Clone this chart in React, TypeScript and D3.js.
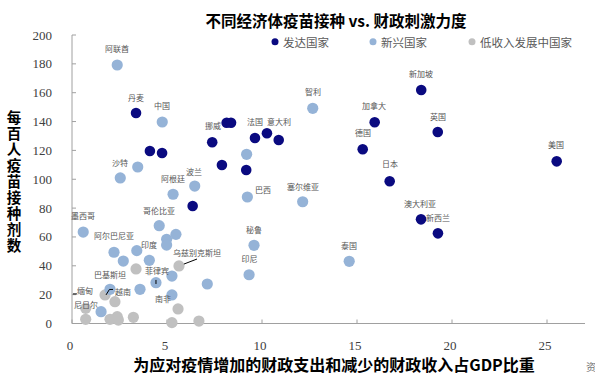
import React from "react";
import * as d3 from "d3";

// ---- data ----
const devX = [3.37, 4.1, 4.74, 8.14, 8.37, 7.38, 9.63, 10.26, 10.88, 7.89, 9.17, 6.35, 15.3, 15.93, 18.38, 19.25, 25.51, 16.72, 18.37, 19.26];
const devY = [145.9, 119.6, 118.2, 139.2, 139.2, 125.6, 128.6, 131.9, 127.2, 109.9, 106.4, 81.5, 120.8, 139.5, 161.9, 132.8, 112.4, 98.6, 72.2, 62.5];

const emgX = [2.38, 4.75, 12.67, 3.46, 2.54, 6.46, 5.32, 9.19, 9.23, 12.14, 9.58, 9.32, 14.59, 7.12, 0.59, 4.59, 5.47, 4.98, 4.98, 2.21, 3.41, 2.7, 4.07, 4.42, 3.58, 2.0, 5.26, 5.26, 1.53];
const emgY = [179.2, 139.7, 149.2, 108.5, 100.9, 95.3, 89.6, 117.3, 87.7, 84.4, 54.2, 33.8, 43.1, 27.4, 63.4, 67.8, 61.8, 58.4, 54.4, 49.4, 50.5, 43.3, 43.8, 28.3, 23.7, 23.7, 32.9, 19.8, 8.2];

const lowX = [3.37, 5.63, 1.74, 2.26, 0.72, 5.58, 0.72, 2.0, 2.38, 2.44, 3.23, 5.26, 6.68];
const lowY = [37.8, 39.9, 19.8, 15.1, 10.5, 10.1, 2.9, 2.9, 4.7, 2.4, 4.3, 0.6, 1.7];

const labelText = ["阿联酋", "丹麦", "中国", "挪威", "法国", "意大利", "智利", "新加坡", "加拿大", "英国", "德国", "美国", "日本", "澳大利亚", "新西兰", "沙特", "波兰", "阿根廷", "巴西", "塞尔维亚", "秘鲁", "泰国", "印尼", "乌兹别克斯坦", "墨西哥", "哥伦比亚", "阿尔巴尼亚", "印度", "菲律宾", "巴基斯坦", "缅甸", "越南", "尼日尔", "南非"];
const labelX = [2.37, 3.37, 4.74, 7.42, 9.63, 10.89, 12.68, 18.37, 15.89, 19.26, 15.32, 25.47, 16.74, 18.32, 19.26, 2.53, 6.42, 5.32, 10.05, 12.16, 9.58, 14.58, 9.34, 6.58, 0.58, 4.58, 2.21, 4.05, 4.47, 2.0, 0.68, 2.68, 0.74, 4.79];
const labelY = [190.3, 157.0, 150.8, 137.3, 139.7, 139.7, 160.5, 173.0, 150.8, 143.8, 132.1, 124.4, 110.6, 83.5, 73.8, 111.3, 105.7, 100.2, 93.2, 95.3, 65.5, 54.4, 45.4, 48.9, 75.2, 78.0, 60.7, 55.1, 36.4, 34.3, 23.2, 22.5, 13.5, 17.0];

const leaderLines: [number, number][][] = [
  [[5.89, 41.2], [6.58, 44.7]],
  [[4.42, 30.2], [4.42, 27.4]],
  [[1.79, 19.8], [1.97, 23.6], [2.16, 23.6]],
  [[0.05, 20.5], [0.26, 20.5]],
];

const xTicks = [0, 5, 10, 15, 20, 25];
const yTicks = [0, 20, 40, 60, 80, 100, 120, 140, 160, 180, 200];

const seriesNames = ["发达国家", "新兴国家", "低收入发展中国家"];
const seriesColors = ["#0a0a80", "#95b3d7", "#c0c0c0"];

const title = "不同经济体疫苗接种 vs. 财政刺激力度";
const xTitle = "为应对疫情增加的财政支出和减少的财政收入占GDP比重";
const yTitle = "每百人疫苗接种剂数";

export default function App() {
  const x = d3.scaleLinear().domain([0, 27]).range([72, 585]);
  const y = d3.scaleLinear().domain([0, 200]).range([323.5, 35]);
  const series = [
    { xs: devX, ys: devY },
    { xs: emgX, ys: emgY },
    { xs: lowX, ys: lowY },
  ];
  const line = d3.line<[number, number]>().x((d) => x(d[0])).y((d) => y(d[1]));
  const cjk = "'Noto Sans CJK SC', 'Noto Sans', sans-serif";
  const serif = "'Liberation Serif', 'DejaVu Serif', serif";
  const legendX = [275, 373, 472];

  return (
    <svg width={595} height={378} style={{ position: "absolute", left: 0, top: 0, background: "#fff" }}>
      <rect width={595} height={378} fill="#fff" />
      <text x={336} y={20} textAnchor="middle" dominantBaseline="central" fontFamily={cjk} fontWeight={700} fontSize={15.5} fill="#000">
        {title}
      </text>
      {seriesNames.map((n, i) => (
        <g key={n}>
          <circle cx={legendX[i]} cy={41.7} r={3.5} fill={seriesColors[i]} />
          <text x={legendX[i] + 8} y={41.7} dominantBaseline="central" fontFamily={cjk} fontSize={11.5} fill="#595959">
            {n}
          </text>
        </g>
      ))}
      {/* axes */}
      <line x1={x(0)} x2={x(0)} y1={y(200)} y2={y(0)} stroke="#a0a0a0" strokeWidth={1} />
      <line x1={x(0)} x2={x(27)} y1={y(0)} y2={y(0)} stroke="#a0a0a0" strokeWidth={1} />
      {yTicks.map((t) => (
        <g key={"y" + t}>
          <line x1={x(0)} x2={x(0) + 4} y1={y(t)} y2={y(t)} stroke="#a0a0a0" />
          <text x={52} y={y(t)} textAnchor="end" dominantBaseline="central" fontFamily={serif} fontSize={13} fill="#404040">
            {t}
          </text>
        </g>
      ))}
      {xTicks.map((t) => (
        <g key={"x" + t}>
          <line x1={x(t)} x2={x(t)} y1={y(0)} y2={y(0) - 4} stroke="#a0a0a0" />
          <text x={x(t) - 2} y={345} textAnchor="middle" dominantBaseline="central" fontFamily={serif} fontSize={13} fill="#404040">
            {t}
          </text>
        </g>
      ))}
      {/* points */}
      {series
        .map((s, si) =>
          s.xs.map((vx, i) => (
            <circle key={si + "-" + i} cx={x(vx)} cy={y(s.ys[i])} r={si === 0 ? 5.3 : 5.6} fill={seriesColors[si]} />
          ))
        )
        .reverse()}
      {leaderLines.map((l, i) => (
        <path key={"l" + i} d={line(l) || ""} stroke="#000" strokeWidth={1} fill="none" />
      ))}
      {labelText.map((t, i) => (
        <text key={"t" + i} x={x(labelX[i])} y={y(labelY[i])} textAnchor="middle" dominantBaseline="central" fontFamily={cjk} fontSize={8} fill="#555">
          {t}
        </text>
      ))}
      {/* axis titles */}
      <text x={334} y={364} textAnchor="middle" dominantBaseline="central" fontFamily={cjk} fontWeight={700} fontSize={16} fill="#000">
        {xTitle}
      </text>
      <text
        x={14}
        y={110}
        style={{ writingMode: "vertical-rl", letterSpacing: "1.5px" }}
        fontFamily={cjk}
        fontWeight={700}
        fontSize={14.5}
        fill="#000"
      >
        {yTitle}
      </text>
      <text x={586} y={366} dominantBaseline="central" fontFamily={cjk} fontSize={10} fill="#777">
        资
      </text>
    </svg>
  );
}
